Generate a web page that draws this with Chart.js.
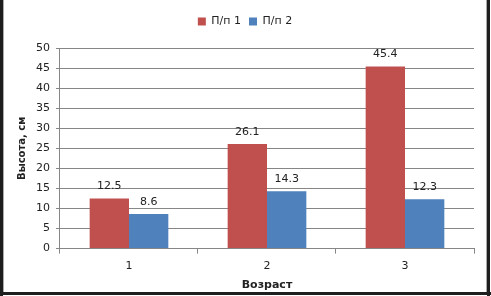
<!DOCTYPE html>
<html lang="ru">

<head>
    <meta charset="UTF-8">
    <title>Высота по возрасту</title>
    <style>
        body {
            margin: 0;
            background: #fff;
        }

        .chartBox {
            position: relative;
            width: 491px;
            height: 296px;
        }
    </style>
</head>

<body>
    <div class="chartBox">
        <canvas id="heightChart" width="491" height="296"></canvas>
    </div>

    <script src="https://cdn.jsdelivr.net/npm/chart.js"></script>
    <script>
        // данные с картинки
        const ageLabels = ['1', '2', '3'];
        const series1 = [12.5, 26.1, 45.4];
        const series2 = [8.6, 14.3, 12.3];
        const seriesNames = ['П/п 1', 'П/п 2'];

        const FONT = 'DejaVu Sans';

        // подписи значений над столбиками
        const valueLabels = {
            id: 'valueLabels',
            afterDatasetsDraw(chart) {
                const ctx = chart.ctx;
                ctx.save();
                ctx.font = '11px ' + FONT;
                ctx.fillStyle = '#222';
                ctx.textAlign = 'center';
                ctx.textBaseline = 'alphabetic';
                chart.data.datasets.forEach((ds, i) => {
                    chart.getDatasetMeta(i).data.forEach((bar, j) => {
                        ctx.fillText(ds.data[j].toFixed(1), bar.x, bar.y - 9);
                    });
                });
                ctx.restore();
            }
        };

        // отступ под легендой
        const legendGap = {
            id: 'legendGap',
            beforeInit(chart) {
                const fit = chart.legend.fit;
                chart.legend.fit = function () {
                    fit.bind(chart.legend)();
                    this.height += 11;
                };
            }
        };

        // рамка вокруг всей картинки
        const frame = {
            id: 'frame',
            afterDraw(chart) {
                const ctx = chart.ctx;
                const w = chart.width, h = chart.height;
                ctx.save();
                ctx.fillStyle = '#1e1e1e';
                ctx.fillRect(0, 0, 3, h);
                ctx.fillRect(w - 4, 0, 3, h);
                ctx.fillRect(0, h - 4, w, 3);
                ctx.fillStyle = '#aaa';
                ctx.fillRect(3, 0, 1, h - 4);
                ctx.fillRect(w - 5, 0, 1, h - 4);
                ctx.restore();
            }
        };

        const ctx = document.getElementById('heightChart');
        const heightChart = new Chart(ctx, {
            type: 'bar',
            data: {
                labels: ageLabels,
                datasets: [{
                    label: seriesNames[0],
                    data: series1,
                    backgroundColor: '#C0504D',
                    barPercentage: 1,
                    categoryPercentage: 0.57
                }, {
                    label: seriesNames[1],
                    data: series2,
                    backgroundColor: '#4F81BD',
                    barPercentage: 1,
                    categoryPercentage: 0.57
                }]
            },
            options: {
                responsive: false,
                animation: false,
                layout: {
                    padding: { left: 16, right: 17, top: 8, bottom: 4 }
                },
                plugins: {
                    legend: {
                        position: 'top',
                        labels: {
                            boxWidth: 8,
                            boxHeight: 8,
                            padding: 8,
                            color: '#222',
                            font: { family: FONT, size: 11 }
                        }
                    },
                    tooltip: { enabled: false }
                },
                scales: {
                    x: {
                        grid: {
                            offset: true,
                            drawOnChartArea: false,
                            drawTicks: true,
                            tickLength: 5,
                            color: '#868686'
                        },
                        border: { color: '#868686' },
                        ticks: {
                            color: '#222',
                            padding: 6,
                            font: { family: FONT, size: 11 }
                        },
                        title: {
                            display: true,
                            text: 'Возраст',
                            color: '#222',
                            padding: { top: 0, bottom: 0 },
                            font: { family: FONT, size: 11, weight: 'bold' }
                        }
                    },
                    y: {
                        min: 0,
                        max: 50,
                        ticks: {
                            stepSize: 5,
                            color: '#222',
                            padding: 6,
                            font: { family: FONT, size: 11 }
                        },
                        grid: {
                            color: '#868686',
                            tickLength: 4
                        },
                        border: { color: '#868686' },
                        title: {
                            display: true,
                            text: 'Высота, см',
                            color: '#222',
                            padding: { top: 0, bottom: 2 },
                            font: { family: FONT, size: 10, weight: 'bold' }
                        }
                    }
                }
            },
            plugins: [valueLabels, legendGap, frame]
        });
    </script>
</body>

</html>
